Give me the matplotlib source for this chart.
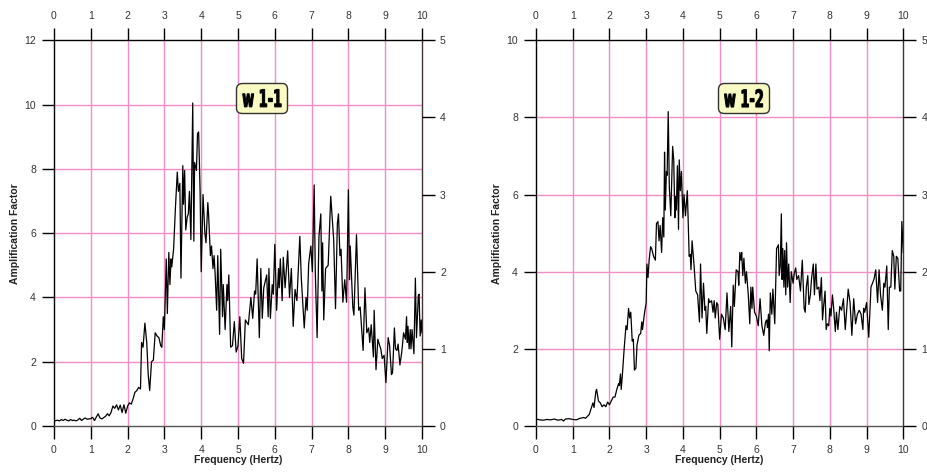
import matplotlib.pyplot as plt
import numpy as np
from matplotlib.textpath import TextPath
from matplotlib.patches import PathPatch
from matplotlib.font_manager import FontProperties
from matplotlib.offsetbox import AuxTransformBox, AnnotationBbox
from matplotlib.transforms import Affine2D

# spectral ratio, station w1-1
freq_1 = [0.0, 0.05, 0.1, 0.15, 0.2, 0.25, 0.3, 0.35, 0.4, 0.45, 0.5, 0.55, 0.6, 0.65, 0.7, 0.75,
          0.8, 0.85, 0.9, 0.95, 1.0, 1.05, 1.1, 1.15, 1.2, 1.25, 1.3, 1.35, 1.4, 1.45, 1.5, 1.55,
          1.6, 1.65, 1.7, 1.75, 1.8, 1.85, 1.9, 1.95, 2.0, 2.05, 2.1, 2.15, 2.2, 2.25, 2.3, 2.35,
          2.38, 2.42, 2.47, 2.52, 2.56, 2.6, 2.65, 2.7, 2.75, 2.8, 2.85, 2.9, 2.93, 2.97, 3.0,
          3.05, 3.08, 3.12, 3.15, 3.18, 3.2, 3.25, 3.3, 3.35, 3.38, 3.42, 3.45, 3.5, 3.52, 3.55,
          3.58, 3.62, 3.65, 3.68, 3.72, 3.77, 3.8, 3.82, 3.87, 3.9, 3.93, 3.97, 4.0, 4.05, 4.1,
          4.13, 4.18, 4.2, 4.25, 4.28, 4.32, 4.35, 4.38, 4.42, 4.45, 4.5, 4.53, 4.58, 4.6, 4.65,
          4.7, 4.72, 4.75, 4.8, 4.85, 4.9, 4.95, 5.0, 5.05, 5.1, 5.15, 5.2, 5.28, 5.35, 5.4,
          5.45, 5.48, 5.52, 5.58, 5.62, 5.66, 5.7, 5.78, 5.82, 5.84, 5.88, 5.93, 5.96, 6.0, 6.05,
          6.1, 6.12, 6.15, 6.2, 6.23, 6.28, 6.35, 6.4, 6.45, 6.5, 6.55, 6.6, 6.68, 6.72, 6.8,
          6.85, 6.88, 6.92, 6.98, 7.02, 7.07, 7.1, 7.15, 7.2, 7.25, 7.28, 7.3, 7.33, 7.38, 7.45,
          7.52, 7.6, 7.65, 7.7, 7.73, 7.77, 7.8, 7.85, 7.9, 7.95, 8.0, 8.03, 8.05, 8.12, 8.15,
          8.22, 8.28, 8.32, 8.4, 8.45, 8.5, 8.55, 8.58, 8.62, 8.68, 8.7, 8.75, 8.8, 8.85, 8.88,
          8.92, 8.97, 9.02, 9.08, 9.12, 9.17, 9.2, 9.25, 9.28, 9.32, 9.35, 9.4, 9.45, 9.5, 9.55,
          9.58, 9.6, 9.62, 9.65, 9.68, 9.7, 9.73, 9.78, 9.82, 9.85, 9.9, 9.92, 9.95, 9.98, 10.0]
amp_1 = [0.15, 0.17, 0.18, 0.16, 0.2, 0.17, 0.21, 0.18, 0.16, 0.2, 0.17, 0.18, 0.16, 0.19, 0.24, 0.17,
         0.22, 0.25, 0.21, 0.22, 0.23, 0.27, 0.17, 0.28, 0.38, 0.25, 0.22, 0.26, 0.3, 0.38, 0.32, 0.42,
         0.62, 0.55, 0.66, 0.5, 0.65, 0.42, 0.66, 0.4, 0.62, 0.72, 0.68, 0.85, 1.05, 1.1, 1.2, 1.15,
         2.6, 2.45, 3.2, 2.6, 1.6, 1.1, 2.0, 2.05, 2.9, 2.8, 2.75, 2.5, 2.45, 3.4, 3.0,
         5.2, 3.5, 5.4, 4.4, 5.2, 4.95, 5.5, 6.8, 7.9, 7.3, 7.55, 4.6, 8.1, 6.9, 7.95,
         6.1, 6.5, 6.6, 7.3, 5.8, 10.05, 5.75, 8.2, 7.95, 9.1, 9.15, 7.3, 4.8, 7.2, 6.0,
         5.7, 6.95, 6.6, 5.3, 5.6, 4.9, 5.3, 4.7, 3.6, 5.3, 2.85, 5.5, 3.4, 4.4, 3.0,
         4.4, 3.9, 4.7, 2.45, 2.5, 3.25, 2.3, 2.5, 3.4, 2.1, 1.95, 3.3, 3.15, 4.0, 3.35,
         4.2, 4.1, 5.2, 2.75, 4.9, 3.35, 4.3, 4.7, 3.4, 4.9, 3.35, 4.4, 4.1, 5.65, 3.6,
         4.9, 4.3, 5.2, 3.9, 5.25, 4.3, 5.45, 4.0, 4.9, 3.1, 4.25, 3.9, 5.9, 4.6, 3.05,
         4.0, 3.6, 5.05, 5.6, 4.8, 7.5, 4.8, 2.75, 5.9, 6.6, 4.2, 5.7, 3.3, 4.9, 5.0,
         7.15, 5.8, 3.65, 6.3, 6.6, 5.3, 5.5, 3.85, 4.55, 3.85, 7.35, 4.55, 5.6, 3.7, 3.45,
         5.95, 3.6, 3.7, 2.35, 4.3, 2.9, 3.05, 2.6, 3.15, 2.15, 3.6, 1.75, 2.7, 2.5, 2.4,
         2.1, 2.2, 1.35, 2.75, 2.5, 1.6, 1.65, 3.05, 2.4, 2.35, 2.55, 1.9, 2.3, 2.9, 2.7,
         3.4, 2.6, 3.1, 2.4, 3.0, 2.4, 3.0, 2.25, 4.6, 2.75, 4.05, 4.1, 2.8, 3.3, 2.9]

# spectral ratio, station w1-2
freq_2 = [0.0, 0.1, 0.2, 0.3, 0.4, 0.5, 0.6, 0.7, 0.75, 0.8, 0.9, 1.0, 1.1, 1.2, 1.3, 1.35,
          1.4, 1.45, 1.5, 1.55, 1.58, 1.63, 1.65, 1.7, 1.75, 1.8, 1.85, 1.9, 1.95, 2.0, 2.05,
          2.1, 2.15, 2.2, 2.25, 2.27, 2.3, 2.32, 2.35, 2.4, 2.45, 2.48, 2.52, 2.55, 2.58, 2.62,
          2.65, 2.68, 2.72, 2.75, 2.8, 2.85, 2.88, 2.9, 2.95, 3.0, 3.02, 3.05, 3.08, 3.12, 3.15,
          3.2, 3.25, 3.28, 3.32, 3.35, 3.38, 3.42, 3.45, 3.48, 3.5, 3.52, 3.55, 3.57, 3.6, 3.63,
          3.67, 3.72, 3.75, 3.78, 3.8, 3.82, 3.85, 3.88, 3.9, 3.93, 3.96, 4.0, 4.03, 4.07, 4.12,
          4.17, 4.2, 4.22, 4.25, 4.3, 4.35, 4.4, 4.45, 4.48, 4.52, 4.56, 4.6, 4.62, 4.65, 4.7,
          4.73, 4.78, 4.82, 4.85, 4.88, 4.92, 4.95, 5.0, 5.05, 5.1, 5.15, 5.2, 5.25, 5.3, 5.33,
          5.37, 5.4, 5.45, 5.5, 5.52, 5.55, 5.58, 5.6, 5.63, 5.66, 5.7, 5.73, 5.78, 5.82, 5.85,
          5.88, 5.9, 5.95, 6.0, 6.05, 6.1, 6.15, 6.2, 6.25, 6.28, 6.3, 6.33, 6.35, 6.38, 6.42,
          6.45, 6.5, 6.55, 6.6, 6.62, 6.65, 6.68, 6.7, 6.72, 6.75, 6.77, 6.8, 6.82, 6.85, 6.88,
          6.92, 6.95, 7.0, 7.03, 7.07, 7.1, 7.15, 7.2, 7.25, 7.3, 7.33, 7.36, 7.4, 7.43, 7.47,
          7.5, 7.55, 7.58, 7.62, 7.65, 7.7, 7.73, 7.77, 7.8, 7.83, 7.87, 7.9, 7.93, 7.97, 8.0,
          8.03, 8.07, 8.1, 8.15, 8.18, 8.22, 8.27, 8.32, 8.37, 8.42, 8.5, 8.55, 8.6, 8.65, 8.7,
          8.75, 8.8, 8.85, 8.9, 8.92, 8.95, 9.0, 9.06, 9.12, 9.2, 9.25, 9.3, 9.34, 9.38, 9.43,
          9.47, 9.5, 9.55, 9.59, 9.62, 9.66, 9.7, 9.74, 9.77, 9.81, 9.85, 9.9, 9.93, 9.96, 10.0]
amp_2 = [0.18, 0.16, 0.15, 0.17, 0.16, 0.18, 0.15, 0.17, 0.13, 0.18, 0.19, 0.17, 0.16, 0.2, 0.22, 0.2,
         0.25, 0.3, 0.45, 0.6, 0.48, 0.9, 0.95, 0.65, 0.6, 0.5, 0.55, 0.5, 0.62, 0.55, 0.65,
         0.75, 0.75, 0.95, 1.1, 1.05, 1.35, 0.95, 1.3, 2.0, 2.6, 2.5, 3.05, 2.8, 2.95, 2.2,
         2.25, 1.45, 1.5, 2.1, 2.35, 2.4, 2.7, 2.5, 2.9, 3.2, 4.2, 3.85, 4.3, 4.65, 4.6,
         4.4, 4.3, 5.25, 5.3, 4.8, 5.2, 4.5, 5.4, 4.9, 7.1, 5.6, 6.6, 6.5, 8.15, 6.2,
         5.45, 7.25, 6.9, 5.4, 5.95, 5.6, 6.75, 5.1, 6.9, 6.1, 6.6, 5.4, 6.0, 5.45, 6.1,
         4.4, 4.45, 4.05, 4.8, 4.2, 3.5, 3.4, 2.7, 4.2, 2.8, 3.7, 3.0, 3.1, 2.4, 3.3,
         3.2, 3.25, 2.95, 3.25, 2.8, 3.2, 3.15, 2.25, 2.9, 2.8, 2.5, 3.45, 2.45, 3.1, 2.05,
         3.65, 3.1, 4.05, 4.0, 3.65, 4.5, 4.3, 4.5, 3.9, 4.35, 3.7, 4.0, 3.4, 2.65, 3.6,
         3.05, 3.6, 2.95, 2.85, 2.6, 3.3, 2.6, 2.35, 2.7, 2.75, 2.55, 2.9, 1.95, 3.45, 2.9,
         3.55, 2.65, 4.6, 4.7, 3.9, 4.15, 5.5, 3.8, 4.6, 3.6, 4.55, 3.4, 4.75, 3.6, 4.2,
         3.2, 4.0, 3.7, 3.95, 4.1, 3.8, 3.9, 3.5, 4.3, 3.05, 2.95, 3.6, 3.9, 3.15, 3.4,
         3.8, 4.2, 3.4, 4.2, 3.55, 3.6, 3.25, 3.85, 2.75, 3.1, 3.5, 2.5, 2.65, 2.6, 3.05,
         2.85, 3.4, 3.1, 2.45, 2.95, 2.5, 3.1, 3.0, 3.3, 2.5, 3.55, 3.2, 2.35, 3.3, 2.65,
         2.9, 3.0, 2.9, 2.5, 3.05, 2.95, 3.2, 2.3, 3.6, 3.8, 4.05, 3.2, 4.05, 3.4, 3.0,
         3.7, 3.6, 4.15, 2.5, 3.6, 3.6, 4.55, 4.4, 3.55, 4.4, 4.35, 3.5, 3.5, 5.3, 4.5]

labels = ["w 1-1", "w 1-2"]
y_tops = [12, 10]
y_steps = [2, 2]
right_ticks = [0, 1, 2, 3, 4, 5]
x_ticks = list(range(0, 11))

pink = "#f48cc6"
tick_col = "#333333"

plt.rcParams['font.family'] = ['Liberation Sans', 'DejaVu Sans']

fig = plt.figure(figsize=(9.28, 4.72), dpi=100)
fig.patch.set_facecolor("white")

positions = [[54 / 928, 46 / 472, 368 / 928, 385.7 / 472],
             [536 / 928, 46 / 472, 367.3 / 928, 385.7 / 472]]
series = [(freq_1, amp_1), (freq_2, amp_2)]
label_font = FontProperties(family="DejaVu Sans", weight="bold")

for k in range(2):
    ax = fig.add_axes(positions[k])
    f, a = series[k]
    top = y_tops[k]

    # pink grid, drawn by hand so the frame lines stay dark
    for gx in range(1, 10):
        ax.axvline(gx, color=pink, lw=1.0, zorder=1)
    for gy in np.arange(y_steps[k], top, y_steps[k]):
        ax.axhline(gy, color=pink, lw=1.0, zorder=1)

    ax.plot(f, a, color="black", lw=0.9, zorder=3)

    ax.set_xlim(0, 10)
    ax.set_ylim(0, top)
    ax.set_xticks(x_ticks)
    ax.set_yticks(np.arange(0, top + 1, y_steps[k]))
    ax.tick_params(axis="both", direction="out", length=9, width=1.0,
                   color="black", labelsize=7.5, labelcolor=tick_col)
    ax.tick_params(axis="x", top=True, labeltop=True, pad=5)
    ax.tick_params(axis="y", left=True, right=False, pad=4)
    for side in ["left", "top"]:
        ax.spines[side].set_color("black")
        ax.spines[side].set_linewidth(1.0)
    ax.spines["bottom"].set_color("#555555")
    ax.spines["bottom"].set_linewidth(1.0)
    ax.spines["right"].set_color("#443333")
    ax.spines["right"].set_linewidth(1.0)

    # second scale on the right side, 0..5 over the full height
    ax2 = ax.twinx()
    ax2.set_ylim(0, 5)
    ax2.set_yticks(right_ticks)
    ax2.tick_params(axis="y", direction="out", length=9, width=1.0,
                    color="black", labelsize=7.5, labelcolor=tick_col, pad=4)
    for s in ax2.spines.values():
        s.set_visible(False)

    ax.set_ylabel("Amplification Factor", fontsize=7.5, fontweight="bold",
                  color="#222222", labelpad=3)
    ax.set_xlabel("Frequency (Hertz)", fontsize=7.5, fontweight="bold",
                  color="#222222", labelpad=0)

    # station tag: bold lettering squeezed sideways inside a rounded yellow box
    tp = TextPath((0, 0), labels[k], size=24, prop=label_font)
    squeezed = AuxTransformBox(Affine2D().scale(0.54, 1.0))
    squeezed.add_artist(PathPatch(tp, facecolor="black", edgecolor="black", lw=0.7))
    tag = AnnotationBbox(squeezed, (5.65, top * 0.85), xycoords="data", frameon=True,
                         bboxprops=dict(boxstyle="round,pad=0.45,rounding_size=0.4",
                                        facecolor="#fafac4", edgecolor="#333333", lw=1.0))
    tag.set_zorder(5)
    ax.add_artist(tag)

fig.savefig("out.png", dpi=100)
